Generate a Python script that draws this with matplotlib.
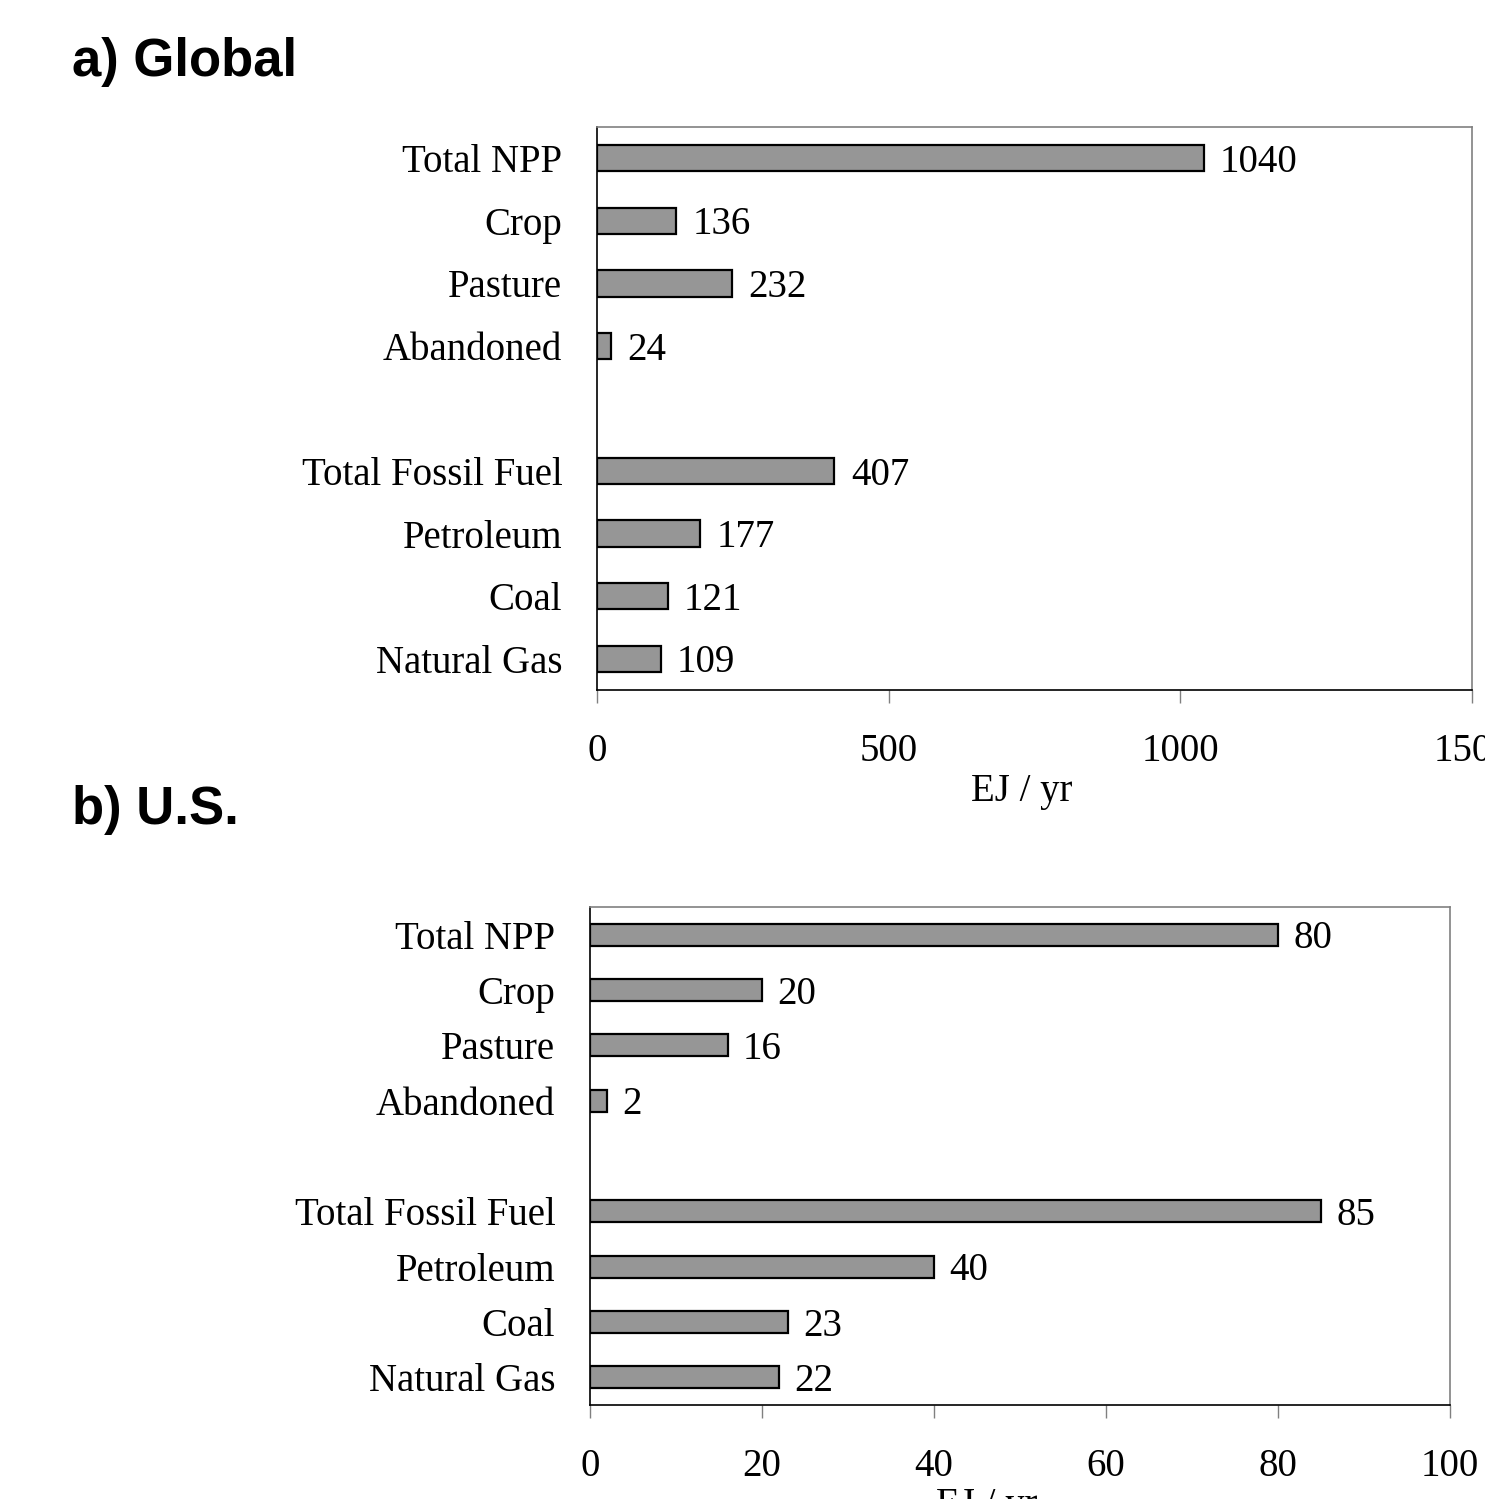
import matplotlib
matplotlib.use("Agg")
import matplotlib.pyplot as plt
import matplotlib.transforms as mtransforms
import numpy as np

categories = ["Total NPP", "Crop", "Pasture", "Abandoned", "",
              "Total Fossil Fuel", "Petroleum", "Coal", "Natural Gas"]
global_values = [1040, 136, 232, 24, None, 407, 177, 121, 109]
us_values = [80, 20, 16, 2, None, 85, 40, 23, 22]
global_ticks = [0, 500, 1000, 1500]
us_ticks = [0, 20, 40, 60, 80, 100]

W, H = 1485, 1499
fig = plt.figure(figsize=(W / 100, H / 100), dpi=100)
serif = ["Liberation Serif", "DejaVu Serif"]
FS = 28


def make_panel(rect_px, values, ticks, xmax, bar_h, label_off):
    l, t, r, b = rect_px
    ax = fig.add_axes([l / W, 1 - b / H, (r - l) / W, (b - t) / H])
    ys = [i for i, v in enumerate(values) if v is not None]
    vals = [values[i] for i in ys]
    ax.barh(ys, vals, height=bar_h, color="#969696", edgecolor="black", linewidth=1.6)
    tr = mtransforms.offset_copy(ax.transData, fig=fig, x=0, y=-3.0, units="points")
    for y, v in zip(ys, vals):
        ax.text(v + label_off, y, str(v), va="center", ha="left",
                fontsize=FS, family=serif, transform=tr)
    ax.set_ylim(len(values) - 0.5, -0.5)
    ax.set_xlim(0, xmax)
    ax.set_yticks(range(len(values)))
    ax.set_yticklabels(categories, fontsize=FS, family=serif)
    ax.set_xticks(ticks)
    ax.set_xticklabels([str(x) for x in ticks], fontsize=FS, family=serif)
    ax.tick_params(axis="y", length=0, pad=25)
    ax.tick_params(axis="x", length=9, width=1, color="#808080", pad=22)
    for s in ["top", "right"]:
        ax.spines[s].set_color("#808080")
        ax.spines[s].set_linewidth(1.2)
    for s in ["left", "bottom"]:
        ax.spines[s].set_color("black")
        ax.spines[s].set_linewidth(1.2)
    return ax


make_panel((597, 127, 1472, 690), global_values, global_ticks, 1500, 0.42, 28)
make_panel((590, 907, 1450, 1405), us_values, us_ticks, 100, 0.40, 1.8)

fig.text(72 / W, 1 - 62 / H, "a) Global", fontsize=38, fontweight="bold",
         family=["Liberation Sans", "DejaVu Sans"], va="center", ha="left")
fig.text(72 / W, 1 - 810 / H, "b) U.S.", fontsize=38, fontweight="bold",
         family=["Liberation Sans", "DejaVu Sans"], va="center", ha="left")
fig.text(1022 / W, 1 - 792 / H, "EJ / yr", fontsize=FS, family=serif,
         va="center", ha="center")
fig.text(987 / W, 1 - 1505 / H, "EJ / yr", fontsize=FS, family=serif,
         va="center", ha="center")

fig.savefig("out.png", dpi=100)
